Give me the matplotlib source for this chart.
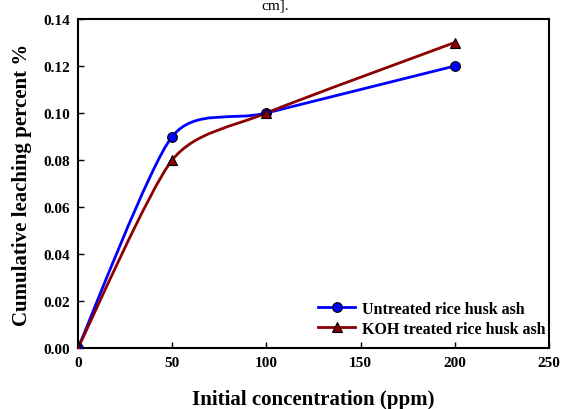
import matplotlib
matplotlib.use("Agg")
import matplotlib.pyplot as plt
from matplotlib.path import Path
from matplotlib.patches import PathPatch
from matplotlib.lines import Line2D
import numpy as np

conc = [0, 50, 100, 200]
untreated = [0.0, 0.09, 0.10, 0.12]
koh = [0.0, 0.08, 0.10, 0.13]
series_names = ["Untreated rice husk ash", "KOH treated rice husk ash"]
xticks = [0, 50, 100, 150, 200, 250]
yticks = [0.00, 0.02, 0.04, 0.06, 0.08, 0.10, 0.12, 0.14]

plt.rcParams['font.family'] = ['Liberation Serif', 'DejaVu Serif']
plt.rcParams['font.weight'] = 'bold'

fig = plt.figure(figsize=(5.61, 4.10), dpi=100)
ax = fig.add_axes([78/561, 1-349/410, (549-78)/561, (349-20)/410])


def smooth_path(x, y, k=0.12):
    x = np.asarray(x, float); y = np.asarray(y, float)
    n = len(x)
    verts = [(x[0], y[0])]
    codes = [Path.MOVETO]
    for i in range(n - 1):
        p0 = np.array([x[max(i-1, 0)], y[max(i-1, 0)]])
        p1 = np.array([x[i], y[i]])
        p2 = np.array([x[i+1], y[i+1]])
        p3 = np.array([x[min(i+2, n-1)], y[min(i+2, n-1)]])
        c1 = p1 + (p2 - p0) * k
        c2 = p2 - (p3 - p1) * k
        verts += [tuple(c1), tuple(c2), tuple(p2)]
        codes += [Path.CURVE4] * 3
    return Path(verts, codes)

specs = [(untreated, '#0000FF', 'o', 7), (koh, '#8B0000', '^', 7)]
handles = []
for (vals, col, mk, ms), name in zip(specs, series_names):
    ax.add_patch(PathPatch(smooth_path(conc, vals), facecolor='none', edgecolor=col, lw=2, zorder=2))
    ax.plot(conc, vals, ls='none', marker=mk, ms=ms, mfc=col, mec='black', mew=0.8, zorder=3)
    handles.append(Line2D([], [], color=col, lw=2, marker=mk, ms=ms, mfc=col, mec='black', mew=0.8, label=name))

ax.set_xlim(0, 250)
ax.set_ylim(0, 0.14)
ax.set_xticks(xticks)
ax.set_yticks(yticks)
ax.set_xticklabels([str(t) for t in xticks])
ax.set_yticklabels([f"{t:.2f}" for t in yticks])
ax.tick_params(direction='in', length=4, width=1, labelsize=11, pad=6)
for lab in ax.get_xticklabels() + ax.get_yticklabels():
    lab.set_fontweight('bold')
for s in ax.spines.values():
    s.set_linewidth(1.5)

ax.set_xlabel("Initial concentration (ppm)", fontsize=15, fontweight='bold', labelpad=14)
ax.set_ylabel("Cumulative leaching percent %", fontsize=15, fontweight='bold', labelpad=8)

leg = ax.legend(handles=handles, loc='lower right', bbox_to_anchor=(1.0, 0.025), frameon=False,
                handlelength=2.3, handletextpad=0.45, borderaxespad=0.0, borderpad=0.2,
                labelspacing=0.25, prop={'weight': 'bold', 'size': 11.5})

fig.text(275/561, 1.0, "cm].", ha='center', va='top', fontsize=11, fontweight='normal')

fig.savefig("out.png", dpi=100)
